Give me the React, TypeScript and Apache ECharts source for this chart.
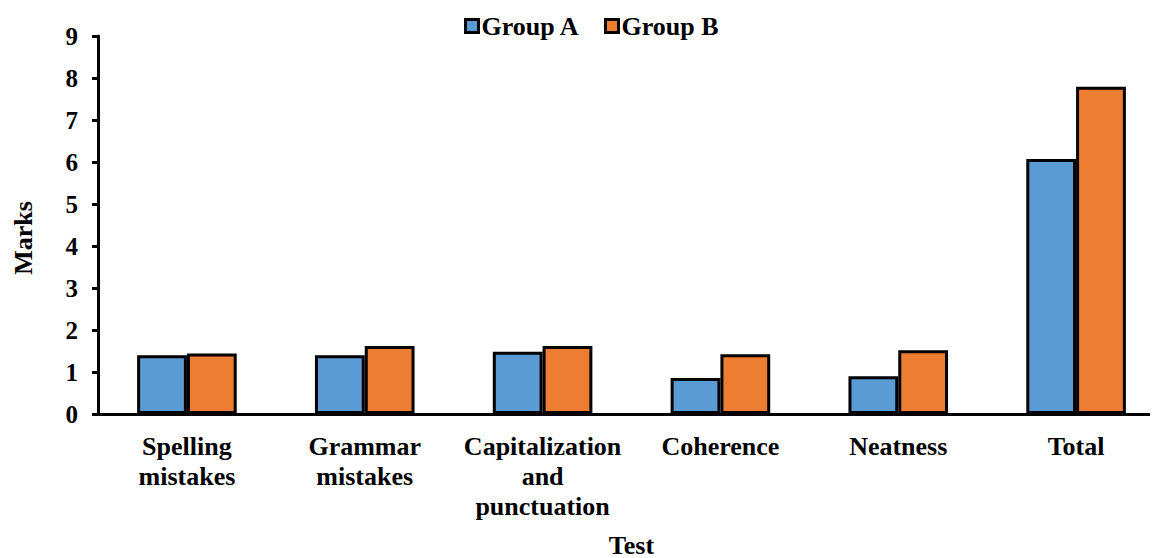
import React, { useEffect, useRef } from "react";
import * as echarts from "echarts";

const categories = [
  "Spelling\nmistakes",
  "Grammar\nmistakes",
  "Capitalization\nand\npunctuation",
  "Coherence",
  "Neatness",
  "Total",
];
const groupA = [1.4, 1.4, 1.48, 0.86, 0.9, 6.07];
const groupB = [1.44, 1.62, 1.62, 1.42, 1.52, 7.79];
const yTicks = { min: 0, max: 9, interval: 1 };

const FONT = "Liberation Serif";

export default function App() {
  const ref = useRef<HTMLDivElement>(null);
  useEffect(() => {
    if (!ref.current) return;
    const chart = echarts.init(ref.current, null, { renderer: "svg" });
    chart.setOption({
      animation: false,
      textStyle: { fontFamily: FONT },
      legend: {
        top: 0,
        left: 451,
        itemWidth: 13,
        itemHeight: 13,
        itemGap: 24,
        icon: "rect",
        itemStyle: { borderColor: "#000", borderWidth: 3 },
        textStyle: { fontFamily: FONT, fontWeight: "bold", fontSize: 26, color: "#000", padding: [0, 0, 0, -2] },
        data: ["Group A", "Group B"],
      },
      grid: { left: 90, right: -7, top: 28, bottom: 144, containLabel: false, outerBoundsMode: "none" },
      xAxis: {
        type: "category",
        data: categories,
        axisLine: { lineStyle: { color: "#000", width: 3 } },
        axisTick: { show: false },
        axisLabel: {
          fontFamily: FONT,
          fontWeight: "bold",
          fontSize: 26,
          color: "#000",
          margin: 17,
          lineHeight: 30,
          interval: 0,
        },
        name: "Test",
        nameLocation: "middle",
        nameGap: 118,
        nameTextStyle: { fontFamily: FONT, fontWeight: "bold", fontSize: 26, color: "#000" },
      },
      yAxis: {
        type: "value",
        min: yTicks.min,
        max: yTicks.max,
        interval: yTicks.interval,
        axisLine: { show: true, lineStyle: { color: "#000", width: 3 } },
        axisTick: { show: true, length: 6, lineStyle: { color: "#000", width: 3 } },
        splitLine: { show: false },
        axisLabel: {
          fontFamily: FONT,
          fontWeight: "bold",
          fontSize: 25,
          color: "#000",
          margin: 20,
        },
        name: "Marks",
        nameLocation: "middle",
        nameGap: 62,
        nameRotate: 90,
        nameTextStyle: {
          fontFamily: FONT,
          fontWeight: "bold",
          fontSize: 26,
          color: "#000",
          padding: [0, 26, 0, 0],
        },
      },
      series: [
        {
          name: "Group A",
          type: "bar",
          data: groupA,
          barWidth: "28%",
          barGap: "0%",
          itemStyle: { color: "#5b9bd5", borderColor: "#000", borderWidth: 3 },
        },
        {
          name: "Group B",
          type: "bar",
          data: groupB,
          barWidth: "28%",
          barGap: "0%",
          itemStyle: { color: "#ed7d31", borderColor: "#000", borderWidth: 3 },
        },
      ],
    });
    return () => chart.dispose();
  }, []);
  return <div ref={ref} style={{ width: 1150, height: 550 }} />;
}
